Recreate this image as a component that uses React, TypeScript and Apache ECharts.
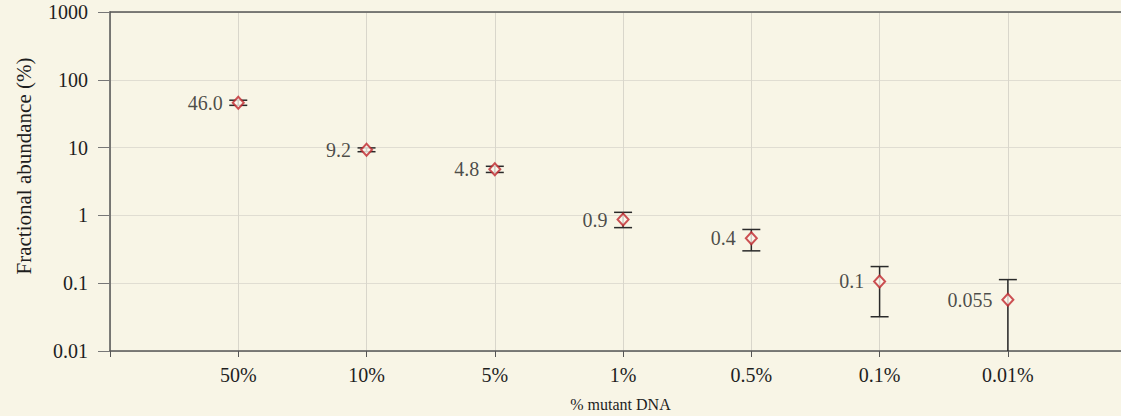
import React, { useEffect, useRef } from "react";
import * as echarts from "echarts";

const categories = ["50%", "10%", "5%", "1%", "0.5%", "0.1%", "0.01%"];
const values = [46, 9.3, 4.8, 0.87, 0.46, 0.106, 0.057];
const valueLabels = ["46.0", "9.2", "4.8", "0.9", "0.4", "0.1", "0.055"];
const errHigh = [50, 9.9, 5.3, 1.11, 0.62, 0.176, 0.113];
const errLow = [42, 8.7, 4.3, 0.66, 0.3, 0.032, 0.01];
const yTicks = [0.01, 0.1, 1, 10, 100, 1000];

const RED = "#c0272d";
const INK = "#1e1e1e";
const FONT = "'Liberation Serif', 'DejaVu Serif', serif";
const X_MAX = 7.96;

export default function App() {
  const ref = useRef<HTMLDivElement>(null);
  useEffect(() => {
    if (!ref.current) return;
    const chart = echarts.init(ref.current, undefined, { renderer: "svg" });
    const pts = values.map((v, i) => [i + 1, v]);
    const errData = values.map((_, i) => [i + 1, errLow[i], errHigh[i]]);
    chart.setOption({
      animation: false,
      backgroundColor: "#f8f5e6",
      textStyle: { fontFamily: FONT },
      grid: { left: 110, right: -10, top: 12, bottom: 65, outerBoundsMode: "none", containLabel: false },
      graphic: [
        {
          type: "text",
          x: 24,
          y: 166,
          rotation: Math.PI / 2,
          style: {
            text: "Fractional abundance (%)",
            fontFamily: FONT,
            fontSize: 21,
            fill: INK,
            align: "center",
            verticalAlign: "middle",
          },
        },
      ],
      xAxis: [
        {
          type: "value",
          min: 0,
          max: X_MAX,
          interval: 1,
          name: "% mutant DNA",
          nameLocation: "middle",
          nameGap: 45,
          nameTextStyle: { fontFamily: FONT, fontSize: 16, color: INK },
          axisLine: { show: true, onZero: false, lineStyle: { color: "#555", width: 1.5 } },
          axisTick: { show: true, length: 6, lineStyle: { color: "#555" } },
          axisLabel: {
            fontFamily: FONT,
            fontSize: 20,
            color: INK,
            margin: 14,
            showMaxLabel: false,
            formatter: (v: number) => (v >= 1 && v <= categories.length && Number.isInteger(v) ? categories[v - 1] : ""),
          },
          splitLine: { show: true, lineStyle: { color: "#d9d6cb", width: 1 } },
        },
        {
          type: "value",
          position: "top",
          min: 0,
          max: X_MAX,
          axisLine: { show: true, onZero: false, lineStyle: { color: "#555", width: 1.5 } },
          axisTick: { show: false },
          axisLabel: { show: false },
          splitLine: { show: false },
        },
      ],
      yAxis: {
        type: "log",
        logBase: 10,
        min: yTicks[0],
        max: yTicks[yTicks.length - 1],
        axisLine: { show: true, lineStyle: { color: "#555", width: 1.5 } },
        axisTick: { show: true, length: 12, lineStyle: { color: "#777" } },
        axisLabel: {
          fontFamily: FONT,
          fontSize: 20,
          color: INK,
          margin: 22,
          formatter: (v: number) => String(Number(v.toPrecision(3))),
        },
        splitLine: { show: true, lineStyle: { color: "#e0ddd2", width: 1 } },
      },
      series: [
        {
          type: "custom",
          xAxisIndex: 0,
          data: errData,
          z: 2,
          renderItem: (params: any, api: any) => {
            const x = api.value(0);
            const lo = api.value(1);
            const hi = api.value(2);
            const pLo = api.coord([x, lo]);
            const pHi = api.coord([x, hi]);
            const hw = 9;
            const style = { stroke: "#2a2a2a", lineWidth: 1.5 };
            const children: any[] = [
              { type: "line", shape: { x1: pLo[0], y1: pLo[1], x2: pHi[0], y2: pHi[1] }, style },
              { type: "line", shape: { x1: pHi[0] - hw, y1: pHi[1], x2: pHi[0] + hw, y2: pHi[1] }, style },
            ];
            if (lo > yTicks[0]) {
              children.push({ type: "line", shape: { x1: pLo[0] - hw, y1: pLo[1], x2: pLo[0] + hw, y2: pLo[1] }, style });
            }
            return { type: "group", children };
          },
        },
        {
          type: "scatter",
          xAxisIndex: 0,
          data: pts,
          z: 3,
          symbol: "diamond",
          symbolSize: [11, 12],
          itemStyle: { color: "#fbf7ee", borderColor: RED, borderWidth: 2 },
          label: {
            show: true,
            position: "left",
            distance: 9,
            fontFamily: FONT,
            fontSize: 20,
            color: INK,
            formatter: (p: any) => valueLabels[p.dataIndex],
          },
        },
      ],
    });
    return () => chart.dispose();
  }, []);
  return (
    <div
      ref={ref}
      style={{ position: "fixed", left: 0, top: 0, width: 1121, height: 416 }}
    />
  );
}
